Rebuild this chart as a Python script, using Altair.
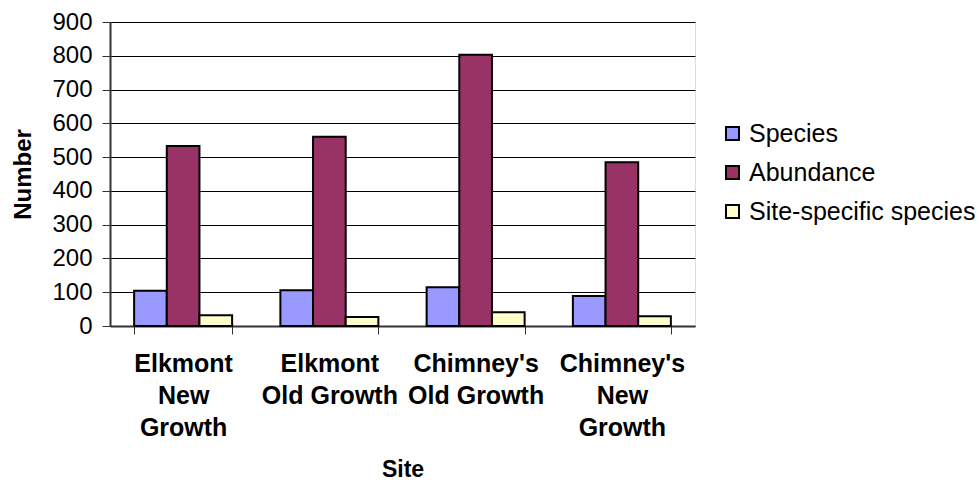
import altair as alt
import pandas as pd

# Survey sites, with the line breaks used for the axis labels
site_lines = [
    ["Elkmont", "New", "Growth"],
    ["Elkmont", "Old Growth"],
    ["Chimney's", "Old Growth"],
    ["Chimney's", "New", "Growth"],
]
sites = [" ".join(parts) for parts in site_lines]

series = ["Species", "Abundance", "Site-specific species"]
species = [104, 106, 115, 89]
abundance = [533, 560, 803, 485]
site_specific = [32, 27, 41, 29]
colors = ["#9999FF", "#993366", "#FFFFCC"]

rows = []
for i, site in enumerate(sites):
    for name, vals in zip(series, [species, abundance, site_specific]):
        rows.append({"site": site, "series": name, "value": vals[i]})
df = pd.DataFrame(rows)


def quote(s):
    return "'" + s.replace("'", "\\'") + "'"


# multi-line tick labels for the site axis
label_expr = ""
for site, parts in zip(sites, site_lines):
    arr = "[" + ", ".join(quote(p) for p in parts) + "]"
    label_expr += f"datum.label == {quote(site)} ? {arr} : "
label_expr += "datum.label"

FONT = "Liberation Sans"

chart = (
    alt.Chart(df)
    .mark_bar(stroke="black", strokeWidth=2)
    .encode(
        x=alt.X(
            "site:N",
            sort=sites,
            title="Site",
            scale=alt.Scale(paddingInner=0.33, paddingOuter=0.165),
            axis=alt.Axis(
                labelExpr=label_expr,
                labelAngle=0,
                labelFont=FONT,
                labelFontSize=25,
                labelFontWeight="bold",
                labelColor="black",
                labelLineHeight=32,
                labelBaseline="top",
                labelPadding=17,
                labelLimit=300,
                tickBand="extent",
                tickSize=8,
                tickColor="#333333",
                domainColor="#333333",
                domainWidth=2,
                titleFont=FONT,
                titleFontSize=23,
                titleFontWeight="bold",
                titleColor="black",
                titlePadding=18,
                grid=False,
            ),
        ),
        xOffset=alt.XOffset(
            "series:N",
            sort=series,
            scale=alt.Scale(paddingInner=0, paddingOuter=0),
        ),
        y=alt.Y(
            "value:Q",
            title="Number",
            scale=alt.Scale(domain=[0, 900], nice=False),
            axis=alt.Axis(
                values=list(range(0, 901, 100)),
                labelFont=FONT,
                labelFontSize=24,
                labelColor="black",
                labelPadding=10,
                tickSize=8,
                tickColor="#333333",
                domainColor="#333333",
                domainWidth=2,
                gridColor="black",
                gridWidth=1,
                titleFont=FONT,
                titleFontSize=24,
                titleFontWeight="bold",
                titleColor="black",
                titlePadding=16,
            ),
        ),
        color=alt.Color(
            "series:N",
            sort=series,
            scale=alt.Scale(domain=series, range=colors),
            legend=alt.Legend(
                title=None,
                orient="none",
                legendX=610,
                legendY=99,
                symbolType="square",
                symbolSize=170,
                symbolStrokeColor="black",
                symbolStrokeWidth=2,
                symbolOpacity=1,
                labelFont=FONT,
                labelFontSize=25,
                labelColor="black",
                labelOffset=4,
                labelLimit=400,
                rowPadding=13,
            ),
        ),
    )
    .properties(
        width=585,
        height=304,
        autosize=alt.AutoSizeParams(type="none"),
        padding={"left": 110, "top": 22, "right": 284, "bottom": 156},
    )
    .configure_view(fill="#C0C0C0", stroke="#808080", strokeWidth=2)
    .configure(background="white")
)

chart.save("out.html", embed_options={"renderer": "svg", "actions": False})
